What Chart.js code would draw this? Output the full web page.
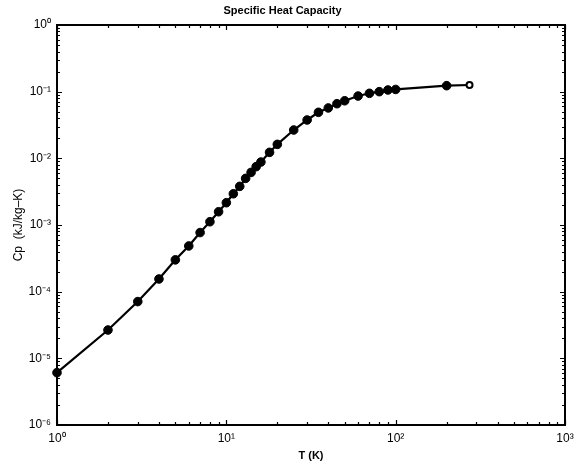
<!DOCTYPE html>
<html>
<head>
<meta charset="utf-8">
<script src="https://cdn.jsdelivr.net/npm/chart.js@4.4.0/dist/chart.umd.min.js"></script>
<style>
  html, body { margin: 0; padding: 0; background: #fff; }
  #wrap { width: 587px; height: 469px; }
</style>
</head>
<body>
<div id="wrap"><canvas id="c" width="587" height="469"></canvas></div>
<script>
// ---- data ----
const temperatures = [1, 2, 3, 4, 5, 6, 7, 8, 9, 10, 11, 12, 13, 14, 15, 16, 18, 20, 25, 30, 35, 40, 45, 50, 60, 70, 80, 90, 100, 200, 273];
const heatCapacity = [6.1e-6, 2.66e-5, 7.1e-5, 1.55e-4, 3.0e-4, 4.85e-4, 7.7e-4, 1.12e-3, 1.58e-3, 2.16e-3, 2.94e-3, 3.8e-3, 5.0e-3, 6.15e-3, 7.5e-3, 8.8e-3, 1.23e-2, 1.62e-2, 2.66e-2, 3.76e-2, 4.9e-2, 5.7e-2, 6.6e-2, 7.3e-2, 8.6e-2, 9.45e-2, 0.100, 0.106, 0.108, 0.123, 0.126];
const xTickLabels = ['10⁰', '10¹', '10²', '10³'];
const xTickExponents = [0, 1, 2, 3];
const yTickLabels = ['10⁻⁶', '10⁻⁵', '10⁻⁴', '10⁻³', '10⁻²', '10⁻¹', '10⁰'];
const yTickExponents = [-6, -5, -4, -3, -2, -1, 0];
const chartTitle = 'Specific Heat Capacity';
const xTitle = 'T (K)';
const yTitle = 'Cp  (kJ/kg–K)';

const points = temperatures.map((t, i) => ({ x: t, y: heatCapacity[i] }));
const lastIdx = points.length - 1;

function labelFor(value, exps, labels) {
  const e = Math.log10(value);
  const r = Math.round(e);
  if (Math.abs(e - r) < 1e-9) {
    const k = exps.indexOf(r);
    return k >= 0 ? labels[k] : '';
  }
  return '';
}

// draws the box and MATLAB-like inward ticks (major + minor) on all four sides
const boxTicks = {
  id: 'boxTicks',
  afterDraw(chart) {
    const { ctx, chartArea: a, scales } = chart;
    const xs = scales.x, ys = scales.y;
    ctx.save();
    ctx.strokeStyle = '#000';
    ctx.lineWidth = 2;
    ctx.strokeRect(a.left, a.top, a.right - a.left, a.bottom - a.top);
    ctx.lineWidth = 1.2;
    ctx.beginPath();
    const xmin = Math.pow(10, xTickExponents[0]), xmax = Math.pow(10, xTickExponents[xTickExponents.length - 1]);
    for (let e = xTickExponents[0]; e <= xTickExponents[xTickExponents.length - 1]; e++) {
      for (let m = 1; m <= 9; m++) {
        const v = m * Math.pow(10, e);
        if (v < xmin - 1e-12 || v > xmax + 1e-9) continue;
        const px = Math.round(xs.getPixelForValue(v)) + 0.5;
        const len = m === 1 ? 5 : 3;
        ctx.moveTo(px, a.bottom); ctx.lineTo(px, a.bottom - len);
        ctx.moveTo(px, a.top); ctx.lineTo(px, a.top + len);
      }
    }
    const ymin = Math.pow(10, yTickExponents[0]), ymax = Math.pow(10, yTickExponents[yTickExponents.length - 1]);
    for (let e = yTickExponents[0]; e <= yTickExponents[yTickExponents.length - 1]; e++) {
      for (let m = 1; m <= 9; m++) {
        const v = m * Math.pow(10, e);
        if (v < ymin * 0.999 || v > ymax * 1.001) continue;
        const py = Math.round(ys.getPixelForValue(v)) + 0.5;
        const len = m === 1 ? 5 : 3;
        ctx.moveTo(a.left, py); ctx.lineTo(a.left + len, py);
        ctx.moveTo(a.right, py); ctx.lineTo(a.right - len, py);
      }
    }
    ctx.stroke();
    ctx.restore();
  }
};

new Chart(document.getElementById('c'), {
  type: 'line',
  data: {
    datasets: [{
      data: points,
      borderColor: '#000',
      borderWidth: 2.2,
      tension: 0,
      fill: false,
      clip: false,
      pointRadius: points.map((p, i) => i === lastIdx ? 3 : 4.3),
      pointBackgroundColor: points.map((p, i) => i === lastIdx ? '#fff' : '#000'),
      pointBorderColor: '#000',
      pointBorderWidth: points.map((p, i) => i === lastIdx ? 2 : 1),
    }]
  },
  options: {
    responsive: false,
    animation: false,
    layout: { padding: { left: 0, right: 22, top: 0, bottom: 0 } },
    plugins: {
      legend: { display: false },
      tooltip: { enabled: false },
      title: {
        display: true,
        text: chartTitle,
        color: '#000',
        font: { family: 'Liberation Sans, Arial, sans-serif', size: 11, weight: 'bold', lineHeight: 1.2 },
        padding: { top: 4, bottom: 7.8 }
      }
    },
    scales: {
      x: {
        type: 'logarithmic',
        min: Math.pow(10, xTickExponents[0]),
        max: Math.pow(10, xTickExponents[xTickExponents.length - 1]),
        afterFit(s) { s.height = 44; },
        grid: { display: false, drawOnChartArea: false, drawTicks: false },
        border: { display: false },
        ticks: {
          autoSkip: false, maxRotation: 0, padding: 6, color: '#000',
          font: { family: 'Liberation Sans, Arial, sans-serif', size: 12 },
          callback: (v) => labelFor(v, xTickExponents, xTickLabels)
        },
        title: {
          display: true, text: xTitle, color: '#000',
          font: { family: 'Liberation Sans, Arial, sans-serif', size: 11, weight: 'bold', lineHeight: 1.2 },
          padding: { top: 0, bottom: 6 }
        }
      },
      y: {
        type: 'logarithmic',
        min: Math.pow(10, yTickExponents[0]),
        max: Math.pow(10, yTickExponents[yTickExponents.length - 1]),
        afterFit(s) { s.width = 57; },
        grid: { display: false, drawOnChartArea: false, drawTicks: false },
        border: { display: false },
        ticks: {
          autoSkip: false, padding: 6, color: '#000',
          font: { family: 'Liberation Sans, Arial, sans-serif', size: 12 },
          callback: (v) => labelFor(v, yTickExponents, yTickLabels)
        },
        title: {
          display: true, text: yTitle, color: '#000',
          font: { family: 'Liberation Sans, Arial, sans-serif', size: 12, lineHeight: 1.2 },
          padding: { top: 11, bottom: 0 }
        }
      }
    }
  },
  plugins: [boxTicks]
});
</script>
</body>
</html>
